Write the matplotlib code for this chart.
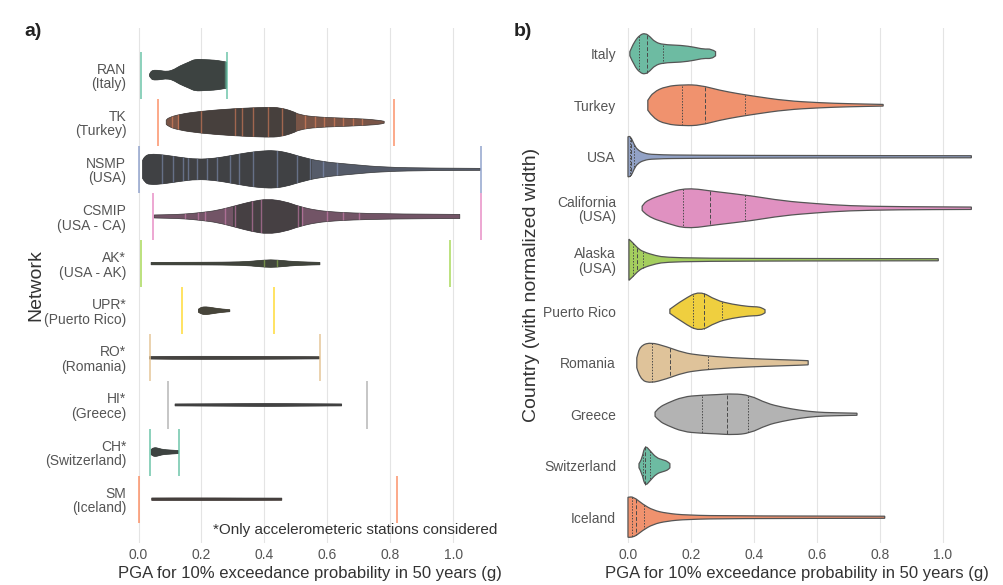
import numpy as np
import colorsys
import matplotlib
matplotlib.use('Agg')
import matplotlib.pyplot as plt
from matplotlib.patches import PathPatch
from matplotlib.path import Path
from matplotlib.colors import to_rgb

plt.rcParams['font.family'] = ['Liberation Sans', 'DejaVu Sans']

SET2 = ['#66c2a5', '#fc8d62', '#8da0cb', '#e78ac3', '#a6d854',
        '#ffd92f', '#e5c494', '#b3b3b3', '#66c2a5', '#fc8d62']
DARK = '#3b3b3b'

# ---------------- panel a) networks ----------------
networks = ['RAN\n(Italy)', 'TK\n(Turkey)', 'NSMP\n(USA)', 'CSMIP\n(USA - CA)',
            'AK*\n(USA - AK)', 'UPR*\n(Puerto Rico)', 'RO*\n(Romania)',
            'HI*\n(Greece)', 'CH*\n(Switzerland)', 'SM\n(Iceland)']

# violin profiles: PGA knots and relative half-width
net_pga = [
    [0.035, 0.04, 0.05, 0.07, 0.09, 0.11, 0.13, 0.16, 0.18, 0.21, 0.24, 0.265, 0.28],
    [0.088, 0.095, 0.13, 0.195, 0.30, 0.41, 0.45, 0.49, 0.51, 0.565, 0.67, 0.76, 0.78],
    [0.013, 0.02, 0.035, 0.08, 0.13, 0.185, 0.24, 0.29, 0.35, 0.395, 0.43, 0.47, 0.51,
     0.576, 0.67, 0.78, 0.93, 1.085],
    [0.05, 0.10, 0.15, 0.20, 0.25, 0.31, 0.36, 0.41, 0.465, 0.51, 0.566, 0.62, 0.67, 0.8, 1.02],
    [0.04, 0.2, 0.33, 0.38, 0.42, 0.46, 0.5, 0.576],
    [0.19, 0.2, 0.215, 0.235, 0.26, 0.29],
    [0.035, 0.1, 0.3, 0.45, 0.575],
    [0.116, 0.3, 0.4, 0.5, 0.645],
    [0.04, 0.045, 0.055, 0.065, 0.08, 0.1, 0.127],
    [0.042, 0.2, 0.455],
]
net_width = [
    [0.05, 0.21, 0.27, 0.24, 0.19, 0.27, 0.48, 0.69, 0.85, 0.82, 0.80, 0.74, 0.69],
    [0.11, 0.24, 0.42, 0.58, 0.72, 0.80, 0.77, 0.58, 0.40, 0.27, 0.21, 0.13, 0.05],
    [0.48, 0.69, 0.82, 0.77, 0.64, 0.53, 0.58, 0.72, 0.90, 0.98, 1.0, 0.90, 0.69,
     0.42, 0.27, 0.11, 0.064, 0.053],
    [0.08, 0.096, 0.13, 0.21, 0.32, 0.58, 0.80, 0.93, 0.80, 0.53, 0.32, 0.24, 0.19, 0.13, 0.11],
    [0.064, 0.069, 0.085, 0.16, 0.21, 0.16, 0.096, 0.064],
    [0.08, 0.19, 0.21, 0.16, 0.096, 0.053],
    [0.064, 0.08, 0.08, 0.069, 0.058],
    [0.053, 0.064, 0.08, 0.064, 0.053],
    [0.13, 0.21, 0.24, 0.19, 0.13, 0.11, 0.08],
    [0.064, 0.069, 0.058],
]
# country hazard range (min / max) shown as coloured bars
net_min = [0.008, 0.062, 0.0, 0.047, 0.008, 0.137, 0.035, 0.095, 0.037, 0.0]
net_max = [0.28, 0.81, 1.087, 1.087, 0.99, 0.43, 0.575, 0.725, 0.13, 0.82]
# dense core range of stations (dark), stripes of sparse stations
net_core = [(0.0, 0.3), (0.13, 0.5), (0.0, 0.55), (0.3, 0.52), (0.0, 1.1),
            (0.0, 1.1), (0.0, 1.1), (0.0, 1.1), (0.0, 1.1), (0.0, 1.1)]
net_stripes = [
    [0.275],
    [0.106, 0.125, 0.2, 0.306, 0.33, 0.365, 0.41, 0.455, 0.53, 0.56, 0.59, 0.62, 0.65, 0.68, 0.71],
    [0.075, 0.11, 0.14, 0.157, 0.186, 0.217, 0.25, 0.29, 0.32, 0.364, 0.44, 0.503, 0.545, 0.586, 0.63],
    [0.148, 0.19, 0.21, 0.275, 0.306, 0.36, 0.39, 0.506, 0.52, 0.6, 0.65, 0.7],
    [0.4, 0.44], [], [], [], [], [],
]

# ---------------- panel b) countries ----------------
countries = ['Italy', 'Turkey', 'USA', 'California\n(USA)', 'Alaska\n(USA)',
             'Puerto Rico', 'Romania', 'Greece', 'Switzerland', 'Iceland']
cty_pga = [
    [0.006, 0.02, 0.038, 0.055, 0.07, 0.085, 0.11, 0.17, 0.21, 0.24, 0.265, 0.278],
    [0.063, 0.08, 0.12, 0.18, 0.23, 0.29, 0.35, 0.4, 0.5, 0.61, 0.7, 0.81],
    [0.0, 0.008, 0.02, 0.03, 0.05, 0.08, 0.2, 0.6, 1.09],
    [0.045, 0.06, 0.123, 0.187, 0.28, 0.39, 0.49, 0.6, 0.7, 0.85, 1.09],
    [0.003, 0.015, 0.03, 0.047, 0.09, 0.12, 0.23, 0.6, 0.985],
    [0.133, 0.175, 0.228, 0.28, 0.33, 0.387, 0.41, 0.425, 0.435],
    [0.028, 0.038, 0.07, 0.123, 0.175, 0.228, 0.33, 0.44, 0.546, 0.572],
    [0.086, 0.1, 0.123, 0.175, 0.23, 0.28, 0.335, 0.387, 0.44, 0.49, 0.546, 0.6, 0.65, 0.727],
    [0.035, 0.044, 0.054, 0.07, 0.09, 0.11, 0.125, 0.133],
    [0.0, 0.017, 0.047, 0.08, 0.123, 0.187, 0.33, 0.815],
]
cty_width = [
    [0.1, 0.58, 0.92, 1.0, 0.83, 0.58, 0.44, 0.41, 0.32, 0.22, 0.24, 0.1],
    [0.24, 0.63, 0.92, 1.0, 0.97, 0.73, 0.56, 0.44, 0.22, 0.12, 0.073, 0.04],
    [0.97, 1.0, 0.58, 0.34, 0.17, 0.1, 0.073, 0.058, 0.05],
    [0.1, 0.39, 0.73, 1.0, 0.8, 0.61, 0.36, 0.22, 0.12, 0.073, 0.058],
    [1.0, 0.83, 0.58, 0.39, 0.19, 0.12, 0.073, 0.058, 0.05],
    [0.1, 0.56, 1.0, 0.53, 0.34, 0.22, 0.22, 0.17, 0.073],
    [0.24, 0.8, 1.0, 0.78, 0.49, 0.36, 0.24, 0.17, 0.12, 0.1],
    [0.1, 0.34, 0.53, 0.85, 0.92, 0.95, 1.0, 0.92, 0.53, 0.34, 0.19, 0.1, 0.073, 0.05],
    [0.1, 0.34, 1.0, 0.73, 0.39, 0.29, 0.22, 0.1],
    [0.97, 1.0, 0.63, 0.34, 0.19, 0.1, 0.063, 0.05],
]
cty_q1 = [0.035, 0.17, 0.005, 0.175, 0.015, 0.207, 0.075, 0.234, 0.048, 0.012]
cty_med = [0.06, 0.245, 0.01, 0.26, 0.03, 0.24, 0.133, 0.313, 0.055, 0.025]
cty_q3 = [0.11, 0.37, 0.02, 0.37, 0.047, 0.3, 0.255, 0.381, 0.07, 0.05]

xticks = [0.0, 0.2, 0.4, 0.6, 0.8, 1.0]
xlabel = 'PGA for 10% exceedance probability in 50 years (g)'

W, H = 1004, 585
fig = plt.figure(figsize=(W / 100, H / 100), dpi=100)
axL = fig.add_axes([129.05 / W, 42 / H, 362.25 / W, 515 / H])
axR = fig.add_axes([620.1 / W, 42 / H, 354.4 / W, 515 / H])

HALF = 0.4


def desat(c, f):
    h, l, s = colorsys.rgb_to_hls(*to_rgb(c))
    return colorsys.hls_to_rgb(h, l, s * f)


def smooth_edge(pts):
    """quadratic-bezier smoothed polyline through midpoints"""
    v = [pts[0]]
    codes = []
    if len(pts) <= 2:
        v.append(pts[-1])
        codes.append(Path.LINETO)
        return v, codes
    m = (pts[0] + pts[1]) / 2
    v.append(m)
    codes.append(Path.LINETO)
    for k in range(1, len(pts) - 1):
        nm = (pts[k] + pts[k + 1]) / 2 if k < len(pts) - 2 else pts[-1]
        v += [pts[k], nm]
        codes += [Path.CURVE3, Path.CURVE3]
    return v, codes


def violin_path(xs, rel, yc):
    xs = np.asarray(xs, float)
    hw = np.asarray(rel, float) * HALF
    top = np.column_stack([xs, yc - hw])
    bot = np.column_stack([xs[::-1], yc + hw[::-1]])
    vt, ct = smooth_edge(top)
    vb, cb = smooth_edge(bot)
    verts = vt + vb + [vt[0]]
    codes = [Path.MOVETO] + ct + [Path.LINETO] + cb + [Path.CLOSEPOLY]
    return Path(np.array(verts), codes)


for ax in (axL, axR):
    for s in ax.spines.values():
        s.set_visible(False)
    ax.set_xticks(xticks)
    ax.set_xticklabels([f'{v:.1f}' for v in xticks])
    ax.grid(axis='x', color='#e4e4e4', lw=0.8, zorder=0)
    ax.set_axisbelow(True)
    ax.tick_params(axis='both', length=0, labelsize=10, labelcolor='#555555')
    ax.set_xlabel(xlabel, fontsize=12, color='#333333', labelpad=3)

# ----- left panel -----
axL.set_xlim(-0.03, 1.12)
axL.set_ylim(9.93, -1.0)
for i in range(len(networks)):
    col = SET2[i]
    poly = PathPatch(violin_path(net_pga[i], net_width[i], i),
                     facecolor=col, edgecolor=DARK, lw=0.5, zorder=2)
    axL.add_patch(poly)
    lo, hi = net_core[i]
    f1 = axL.fill_between([-0.1, 1.2], i - 0.5, i + 0.5, color=DARK, alpha=0.68,
                          lw=0, zorder=3)
    f1.set_clip_path(poly)
    f2 = axL.fill_between([lo, hi], i - 0.5, i + 0.5, color=DARK, alpha=0.8,
                          lw=0, zorder=3)
    f2.set_clip_path(poly)
    if net_stripes[i]:
        st = axL.vlines(net_stripes[i], i - 0.5, i + 0.5, color=col, lw=1.0,
                        alpha=0.5, zorder=4)
        st.set_clip_path(poly)
    axL.vlines([net_min[i], net_max[i]], i - 0.5, i + 0.5, color=col, lw=1.4,
               alpha=0.75, zorder=5)

axL.set_yticks(range(len(networks)))
axL.set_yticklabels(networks)
axL.tick_params(axis='y', pad=2)
for t in axL.get_yticklabels():
    t.set_multialignment('right')
    t.set_linespacing(1.05)
axL.text(1.138, 9.65, '*Only accelerometeric stations considered', ha='right',
         va='center', fontsize=11, color='#333333', clip_on=False)

# ----- right panel -----
axR.set_xlim(-0.025, 1.1)
axR.set_ylim(9.5, -0.5)
for i in range(len(countries)):
    col = desat(SET2[i], 0.85)
    poly = PathPatch(violin_path(cty_pga[i], cty_width[i], i),
                     facecolor=col, edgecolor='#555555', lw=0.9, zorder=2)
    axR.add_patch(poly)
    for q, ls in ((cty_q1[i], (0, (1.5, 1.5))), (cty_med[i], (0, (4, 2))),
                  (cty_q3[i], (0, (1.5, 1.5)))):
        hw = np.interp(q, cty_pga[i], cty_width[i]) * HALF * 0.97
        axR.plot([q, q], [i - hw, i + hw], color='#4a4a4a', lw=0.7,
                 linestyle=ls, zorder=3)

axR.set_yticks(range(len(countries)))
axR.set_yticklabels(countries)
axR.tick_params(axis='y', pad=3)
for t in axR.get_yticklabels():
    t.set_multialignment('right')
    t.set_linespacing(1.05)

# axis titles and panel letters
fig.text(36 / W, 1 - 285 / H, 'Network', rotation=90, ha='center', va='center',
         fontsize=14, color='#333333')
fig.text(532 / W, 1 - 285 / H, 'Country (with normalized width)', rotation=90,
         ha='center', va='center', fontsize=14, color='#333333')
fig.text(24 / W, 1 - 32 / H, 'a)', ha='left', va='center', fontsize=14,
         fontweight='bold', color='#222222')
fig.text(514 / W, 1 - 32 / H, 'b)', ha='left', va='center', fontsize=14,
         fontweight='bold', color='#222222')

fig.savefig('out.png', dpi=100, facecolor='white')
